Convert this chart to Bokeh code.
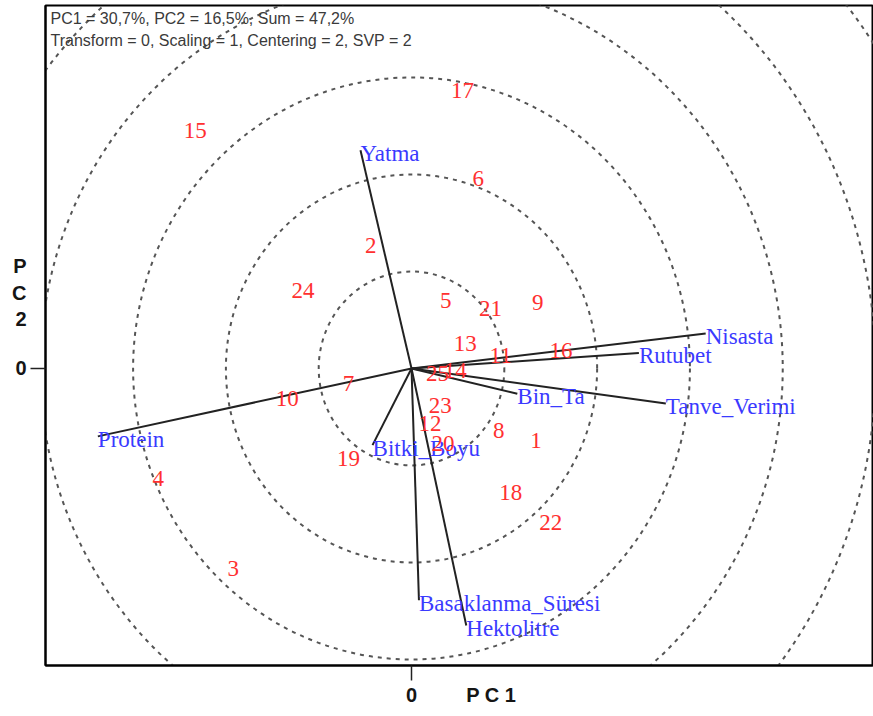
from bokeh.plotting import figure
from bokeh.models import Range1d, FixedTicker, Label, ColumnDataSource
from bokeh.core.properties import value
from bokeh.embed import file_html
from bokeh.resources import INLINE

# Genotypes (PC1, PC2 scores)
gen_labels = ["1", "2", "3", "4", "5", "6", "7", "8", "9", "10", "11", "12", "13",
              "14", "15", "16", "17", "18", "19", "20", "21", "22", "23", "24", "25"]
gen_pc1 = [1.34, -0.44, -1.92, -2.73, 0.37, 0.72, -0.68, 0.94, 1.36, -1.34, 0.96, 0.20, 0.58,
           0.47, -2.33, 1.61, 0.55, 1.07, -0.68, 0.34, 0.85, 1.50, 0.31, -1.17, 0.28]
gen_pc2 = [-0.74, 1.27, -2.06, -1.13, 0.70, 1.96, -0.15, -0.64, 0.68, -0.31, 0.13, -0.57, 0.26,
           -0.02, 2.45, 0.19, 2.87, -1.28, -0.93, -0.77, 0.62, -1.59, -0.38, 0.80, -0.05]

# Traits (vector end points)
trait_labels = ["Yatma", "Nisasta", "Rutubet", "Tanve_Verimi", "Bin_Ta", "Protein",
                "Bitki_Boyu", "Basaklanma_Süresi", "Hektolitre"]
trait_pc1 = [-0.55, 3.17, 2.45, 2.74, 1.14, -3.38, -0.42, 0.08, 0.59]
trait_pc2 = [2.25, 0.36, 0.16, -0.36, -0.26, -0.70, -0.79, -2.39, -2.65]

circle_radii = [1, 2, 3, 4, 5, 6]

info_line1 = "PC1 = 30,7%, PC2 = 16,5%, Sum = 47,2%"
info_line2 = "Transform = 0, Scaling = 1, Centering = 2, SVP = 2"
x_title = "P C 1"
y_title = "P\nC\n2"

p = figure(width=873, height=712, output_backend="svg", toolbar_location=None,
           x_range=Range1d(-3.944, 4.978), y_range=Range1d(-3.062, 3.742),
           min_border_left=45, min_border_right=0, min_border_top=5, min_border_bottom=47)
p.grid.visible = False
p.background_fill_color = "white"
p.border_fill_color = "white"
p.outline_line_color = "black"
p.outline_line_width = 2

# axes: the "0" tick is drawn as a minor tick; titles sit as extra tick labels
xa, ya = p.xaxis[0], p.yaxis[0]
xa.ticker = FixedTicker(ticks=[0, 0.86], minor_ticks=[0])
xa.major_label_overrides = {0: "0", 0.86: x_title}
ya.ticker = FixedTicker(ticks=[0, 0.78], minor_ticks=[0])
ya.major_label_overrides = {0: "0", 0.78: y_title}
for ax in (xa, ya):
    ax.major_tick_out = 0
    ax.major_tick_in = 0
    ax.minor_tick_out = 15
    ax.minor_tick_in = 0
    ax.minor_tick_line_color = "#222222"
    ax.minor_tick_line_width = 1.5
    ax.axis_line_color = "black"
    ax.axis_line_width = 2
    ax.major_label_text_font = "Liberation Sans"
    ax.major_label_text_font_style = "bold"
    ax.major_label_text_font_size = "20px"
    ax.major_label_text_color = "#151515"
xa.major_label_standoff = 3
ya.major_label_standoff = 4

# concentric circles
n = len(circle_radii)
p.ellipse(x=[0] * n, y=[0] * n, width=[2 * r for r in circle_radii],
          height=[2 * r for r in circle_radii], fill_color=None,
          line_color="#555555", line_width=2, line_dash="4 5")

# trait vectors
tsrc = ColumnDataSource(dict(x0=[0] * len(trait_pc1), y0=[0] * len(trait_pc1),
                             x=trait_pc1, y=trait_pc2, t=trait_labels))
p.segment(x0="x0", y0="y0", x1="x", y1="y", source=tsrc, line_color="#222222", line_width=2)
p.text(x="x", y="y", text="t", source=tsrc, text_font=value("Liberation Serif"),
       text_font_size="23px", text_color="#3a3aff", text_align="left",
       text_baseline="middle", y_offset=3)

# genotypes
gsrc = ColumnDataSource(dict(x=gen_pc1, y=gen_pc2, t=gen_labels))
p.text(x="x", y="y", text="t", source=gsrc, text_font=value("Liberation Serif"),
       text_font_size="23px", text_color="#ff3030", text_align="center",
       text_baseline="middle")

# info text
for txt, yy in ((info_line1, 3.608), (info_line2, 3.381)):
    p.add_layout(Label(x=-3.89, y=yy, text=txt, text_font="Liberation Sans",
                       text_font_size="16px", text_color="#3a3a3a",
                       text_baseline="middle", text_align="left"))

open("out.html", "w").write(file_html(p, INLINE))
